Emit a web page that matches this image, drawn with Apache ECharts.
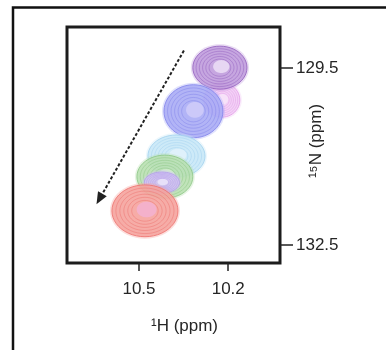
<!DOCTYPE html>
<html>
<head>
<meta charset="utf-8">
<script src="https://cdn.jsdelivr.net/npm/echarts@6/dist/echarts.min.js"></script>
<style>
html,body{margin:0;padding:0;background:#fff;}
#chart{width:386px;height:350px;}
</style>
</head>
<body>
<div id="chart"></div>
<script>
// ---- data ----
var peakLabels = ['p1', 'p2', 'p3', 'p4', 'p5', 'p6', 'p7'];
var peakH  = [10.221, 10.228, 10.317, 10.374, 10.413, 10.423, 10.480];   // 1H shift (ppm)
var peakN  = [130.04, 129.49, 130.23, 130.99, 131.34, 131.44, 131.92];   // 15N shift (ppm)
var halfWH = [0.060, 0.091, 0.099, 0.096, 0.094, 0.059, 0.111];          // half width 1H (ppm)
var halfWN = [0.29, 0.365, 0.45, 0.357, 0.365, 0.178, 0.44];             // half width 15N (ppm)
var arrowH = [10.349, 10.633];
var arrowN = [129.20, 131.72];
var xTicks = [10.5, 10.2];
var yTicks = [129.5, 132.5];
var xRange = [10.026, 10.742];
var yRange = [128.80, 132.806];

// ---- style ----
var ringColors = ['#e49ce9', '#9462c0', '#8385ec', '#a3d2ef', '#8dc886', '#b39bec', '#ee7370'];
var fillColors = ['#f1ccf4', '#bf9cdc', '#a9abf5', '#c8e7f7', '#b9dfb2', '#d2c2f5', '#f5a39d'];
var coreColors = ['#f8e6fa', '#efe4f7', '#d2cefa', '#e3f2fb', '#d8edd4', '#ece6fb', '#f4b3d4'];

var peakData = peakH.map(function (h, i) { return [h, peakN[i], halfWH[i], halfWN[i], i]; });

var FONT = 'Liberation Sans';
var TXT = '#262626';
var chart = echarts.init(document.getElementById('chart'), null, {renderer: 'canvas'});

function ellipsePts(cx, cy, rx, ry) {
  var pts = [];
  for (var k = 0; k < 48; k++) {
    var a = k / 48 * Math.PI * 2;
    pts.push([cx + rx * Math.cos(a), cy + ry * Math.sin(a)]);
  }
  return pts;
}

chart.setOption({
  animation: false,
  backgroundColor: '#ffffff',
  grid: {left: 67, right: 106, top: 27, bottom: 87, show: true, borderColor: '#1c1c1c', borderWidth: 3, backgroundColor: '#ffffff'},
  xAxis: {
    type: 'value', inverse: true, min: xRange[0], max: xRange[1],
    axisLine: {show: false},
    splitLine: {show: false},
    axisTick: {show: true, length: 8, lineStyle: {color: '#222', width: 1.5}, customValues: xTicks},
    axisLabel: {customValues: xTicks, margin: 18, color: TXT, fontFamily: FONT, fontSize: 17,
      formatter: function (v) { return v.toFixed(1); }},
    name: '\u00b9H (ppm)', nameLocation: 'middle', nameGap: 55, nameMoveOverlap: false,
    nameTextStyle: {color: TXT, fontFamily: FONT, fontSize: 17, padding: [0, 0, 0, 22]}
  },
  yAxis: {
    type: 'value', inverse: true, position: 'right', min: yRange[0], max: yRange[1],
    axisLine: {show: false},
    splitLine: {show: false},
    axisTick: {show: true, length: 13, lineStyle: {color: '#222', width: 1.5}, customValues: yTicks},
    axisLabel: {customValues: yTicks, margin: 16, color: TXT, fontFamily: FONT, fontSize: 17,
      formatter: function (v) { return v.toFixed(1); }},
    name: '\u00b9\u2075N (ppm)', nameLocation: 'middle', nameGap: 28, nameRotate: 90, nameMoveOverlap: false,
    nameTextStyle: {color: TXT, fontFamily: FONT, fontSize: 17, padding: [0, 0, 0, 8]}
  },
  graphic: [{
    type: 'polyline', silent: true,
    shape: {points: [[13, 352], [13, 7.5], [390, 7.5]]},
    style: {stroke: '#111', lineWidth: 2.5, fill: null}
  }],
  series: [{
    type: 'custom',
    data: peakData,
    encode: {x: 0, y: 1},
    renderItem: function (params, api) {
      var i = api.value(4);
      var c = api.coord([api.value(0), api.value(1)]);
      var s = api.size([api.value(2), api.value(3)]);
      var rx = Math.abs(s[0]), ry = Math.abs(s[1]);
      var children = [];
      children.push({type: 'polygon', shape: {points: ellipsePts(c[0], c[1], rx + 2, ry + 2)},
        style: {fill: fillColors[i], stroke: null, opacity: 0.35}});
      children.push({type: 'polygon', shape: {points: ellipsePts(c[0], c[1], rx, ry)},
        style: {fill: fillColors[i], stroke: ringColors[i], lineWidth: 1, opacity: 0.85}});
      var levels = [0.88, 0.76, 0.64, 0.52, 0.4];
      levels.forEach(function (l) {
        children.push({type: 'polygon', shape: {points: ellipsePts(c[0], c[1], rx * l, ry * l)},
          style: {fill: null, stroke: ringColors[i], lineWidth: 1, opacity: 0.5}});
      });
      children.push({type: 'polygon', shape: {points: ellipsePts(c[0] + rx * 0.05, c[1] - ry * 0.05, rx * 0.3, ry * 0.3)},
        style: {fill: coreColors[i], stroke: null, opacity: 0.8}});
      return {type: 'group', children: children};
    },
    z: 2
  }, {
    type: 'line', data: [], silent: true, z: 3,
    markLine: {
      silent: true, symbol: ['none', 'triangle'], symbolSize: [10, 12],
      label: {show: false},
      lineStyle: {color: '#222', width: 2, type: [3, 2]},
      data: [[{coord: [arrowH[0], arrowN[0]]}, {coord: [arrowH[1], arrowN[1]]}]]
    }
  }]
});
</script>
</body>
</html>
